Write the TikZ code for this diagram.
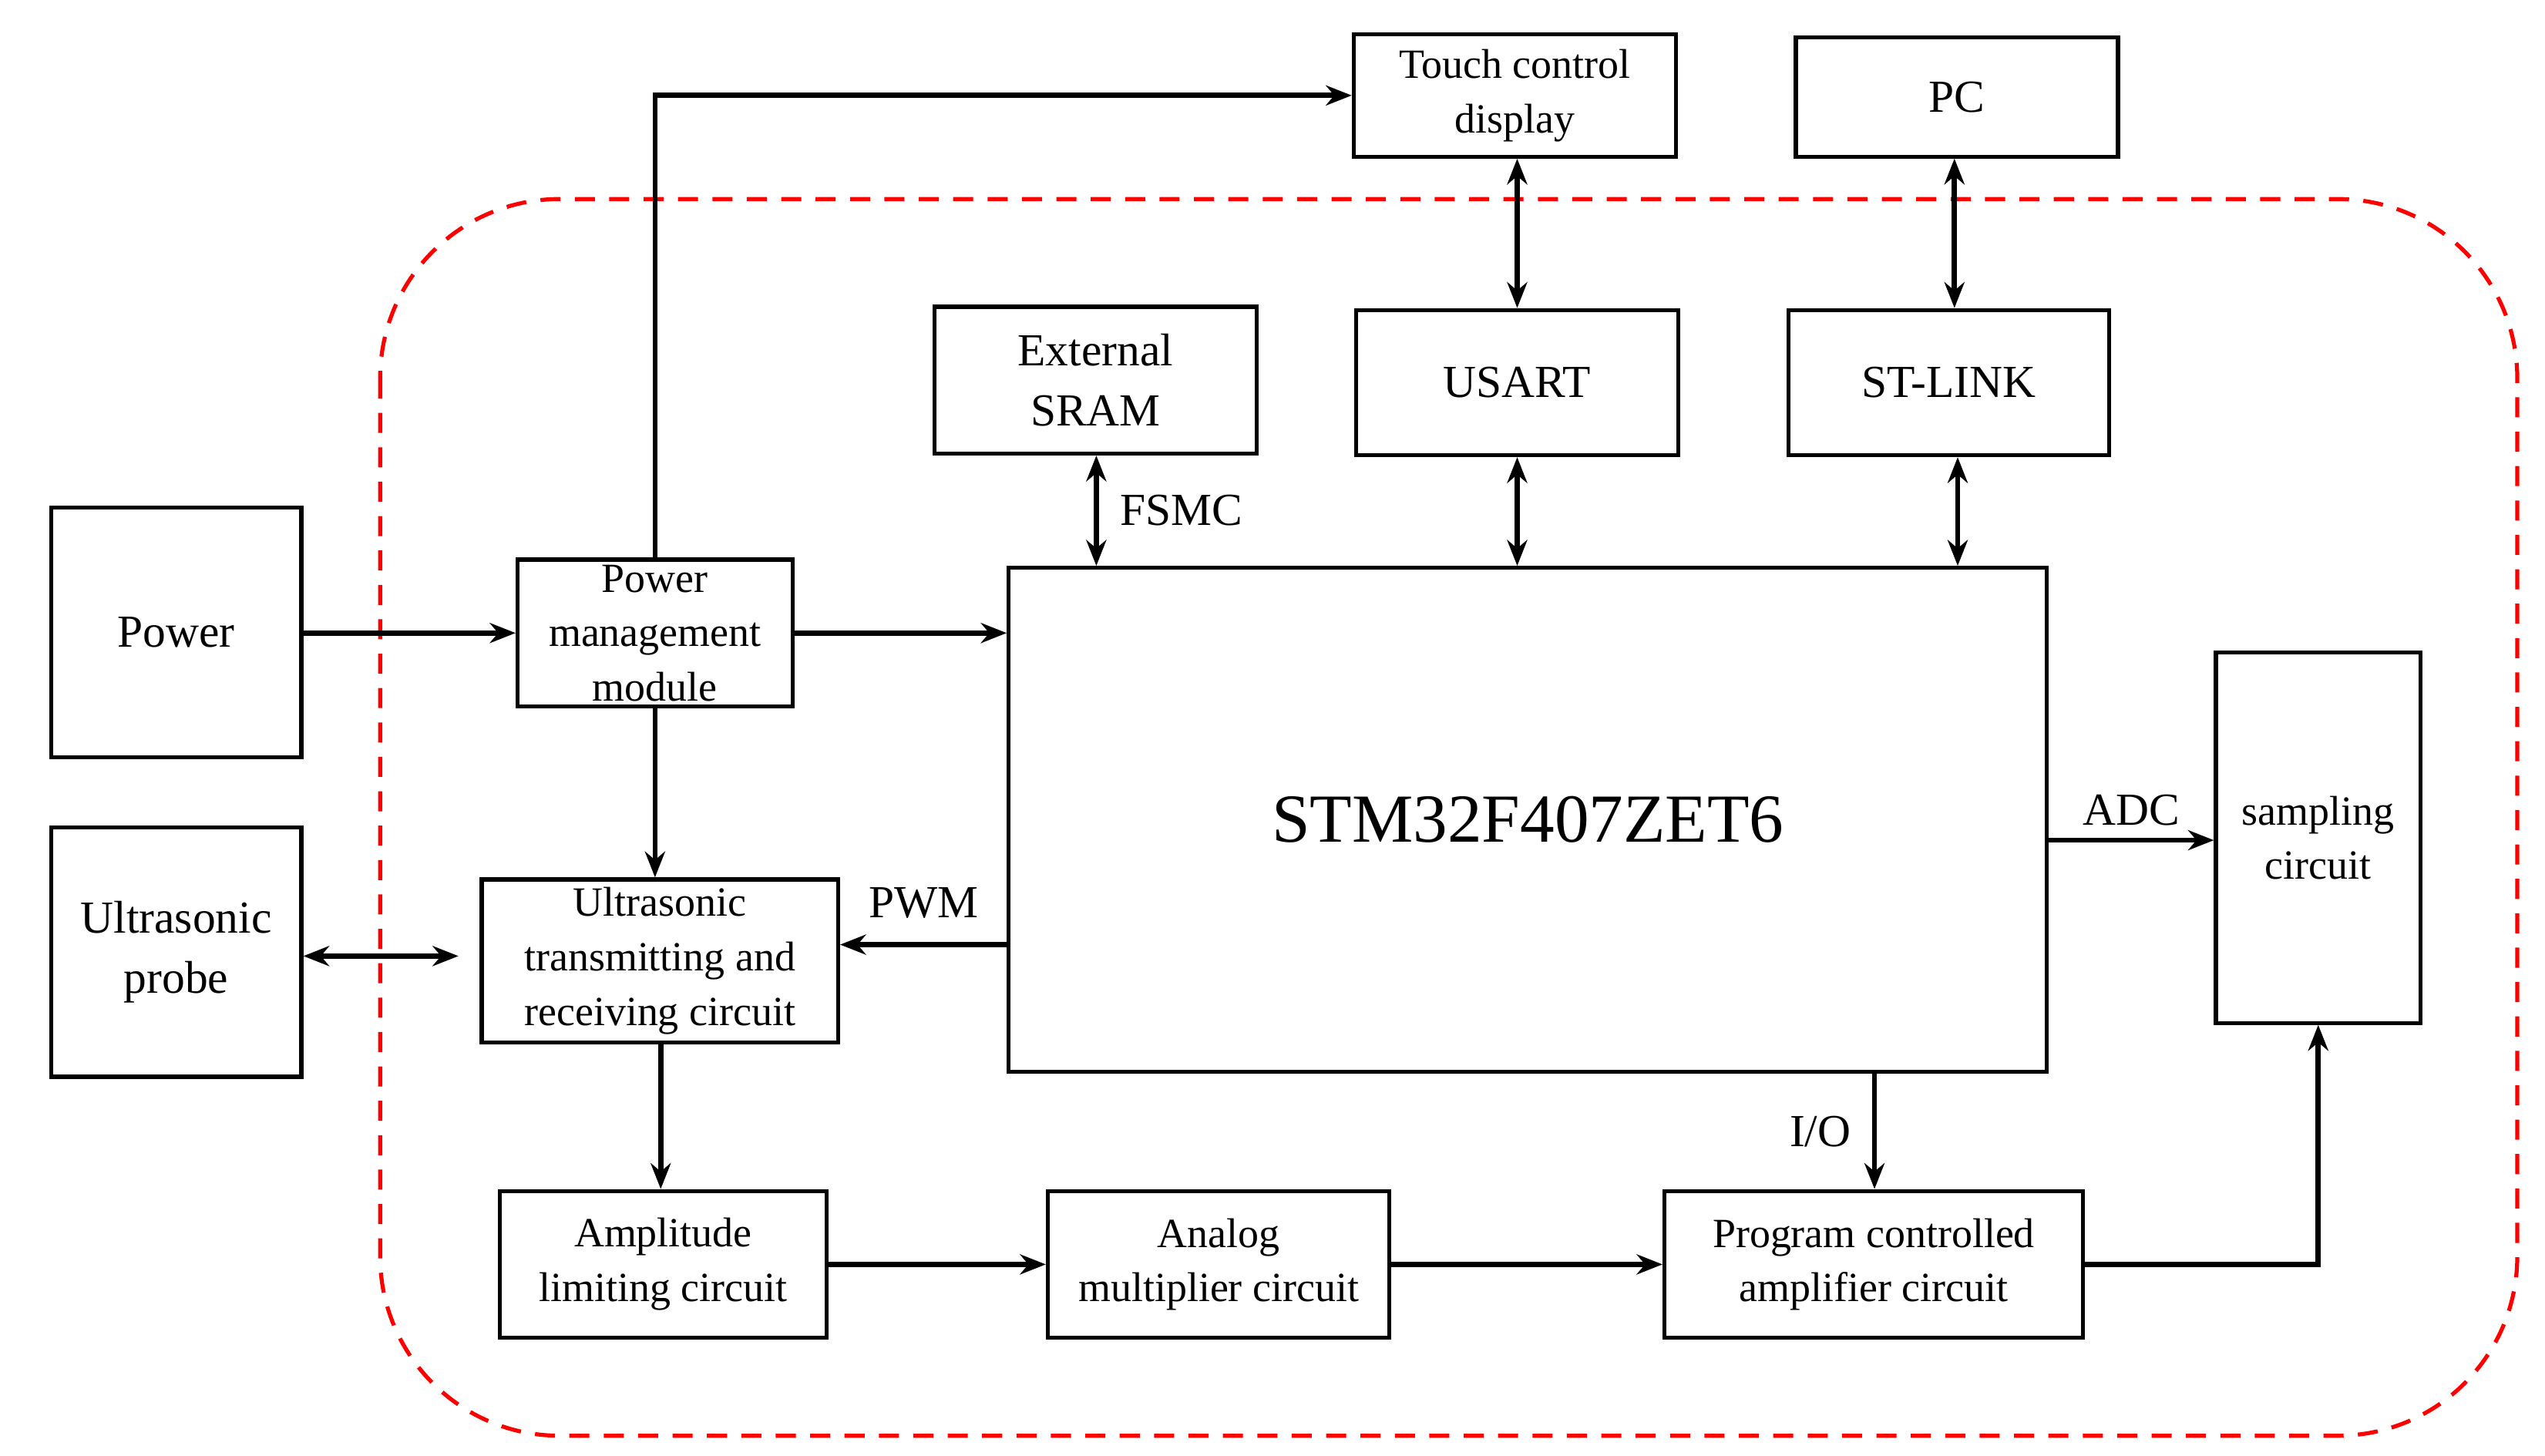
\documentclass[tikz,border=0pt]{standalone}
\usepackage{fontspec}
\setmainfont{Liberation Serif}
\usetikzlibrary{arrows.meta}
\tikzset{
  blk/.style={draw,line width=1.4pt,align=center,inner sep=0pt},
  con/.style={line width=1.8pt,-{Stealth[length=9pt,width=7pt]}},
  bicon/.style={line width=1.8pt,{Stealth[length=9pt,width=7pt]}-{Stealth[length=9pt,width=7pt]}},
  lbl/.style={font=\fontsize{16}{21}\selectfont},
  sml/.style={font=\fontsize{14.5}{19}\selectfont}
}
\begin{document}
\begin{tikzpicture}[x=0.02cm,y=-0.02cm]
\useasboundingbox (0,0) rectangle (1560,892);
% FRAME
\draw[red,dashed,line width=1.4pt,dash pattern=on 7pt off 5pt,rounded corners=2.2cm] (233,122) rectangle (1543,880);
% BLOCKS
\node[blk,sml,minimum width=3.95cm,minimum height=1.5cm] (touch) at (928.5,58.5) {Touch control\\display};
\node[blk,lbl,minimum width=3.95cm,minimum height=1.46cm] (pc) at (1199.5,59.5) {PC};
\node[blk,lbl,minimum width=3.95cm,minimum height=1.8cm] (sram) at (671.5,233) {External\\SRAM};
\node[blk,lbl,minimum width=3.95cm,minimum height=1.78cm] (usart) at (930,234.5) {USART};
\node[blk,lbl,minimum width=3.93cm,minimum height=1.78cm] (stlink) at (1194.5,234.5) {ST-LINK};
\node[blk,lbl,minimum width=3.07cm,minimum height=3.06cm] (power) at (108,387.5) {Power};
\node[blk,sml,minimum width=3.37cm,minimum height=1.8cm] (pm) at (401.5,388) {Power\\management\\module};
\node[blk,font=\fontsize{24}{28}\selectfont,minimum width=12.73cm,minimum height=6.18cm] (stm) at (936.5,502.5) {STM32F407ZET6};
\node[blk,sml,minimum width=2.51cm,minimum height=4.54cm] (samp) at (1421,513.5) {sampling\\circuit};
\node[blk,lbl,minimum width=3.07cm,minimum height=3.06cm] (probe) at (108,583.5) {Ultrasonic\\probe};
\node[blk,sml,minimum width=4.37cm,minimum height=2cm] (ultra) at (404.5,589) {Ultrasonic\\transmitting and\\receiving circuit};
\node[blk,sml,minimum width=4.01cm,minimum height=1.8cm] (amp) at (406.5,775) {Amplitude\\limiting circuit};
\node[blk,sml,minimum width=4.19cm,minimum height=1.8cm] (mult) at (747,775) {Analog\\multiplier circuit};
\node[blk,sml,minimum width=5.13cm,minimum height=1.8cm] (pga) at (1148.5,775) {Program controlled\\amplifier circuit};
\coordinate (probeend) at (281,586);
% CONNECTIONS
\draw[con] (pm.north) |- (touch.west);
\draw[bicon] (touch.south -| usart.north) -- (usart.north);
\draw[bicon] (pc.south -| 1198,0) -- (stlink.north -| 1198,0);
\draw[bicon] (sram.south -| 672,0) -- (stm.north -| 672,0) node[lbl,midway,right=4pt] {FSMC};
\draw[bicon] (usart.south) -- (usart.south |- stm.north);
\draw[bicon] (stlink.south -| 1200,0) -- (stm.north -| 1200,0);
\draw[con] (power.east |- 0,388) -- (pm.west |- 0,388);
\draw[con] (pm.east |- 0,388) -- (stm.west |- 0,388);
\draw[con] (pm.south) -- (pm.south |- ultra.north);
\draw[con] (stm.west |- 0,579) -- (ultra.east |- 0,579) node[lbl,midway,above=5pt] {PWM};
\draw[bicon] (probe.east |- probeend) -- (probeend);
\draw[con] (ultra.south -| 405,0) -- (amp.north -| 405,0);
\draw[con] (amp.east) -- (mult.west);
\draw[con] (mult.east) -- (pga.west);
\draw[con] (stm.south -| 1149,0) -- (pga.north -| 1149,0) node[lbl,midway,left=4pt] {I/O};
\draw[con] (stm.east |- 0,515) -- (samp.west |- 0,515) node[lbl,midway,above=1pt] {ADC};
\draw[con] (pga.east) -| (samp.south);
\end{tikzpicture}
\end{document}
